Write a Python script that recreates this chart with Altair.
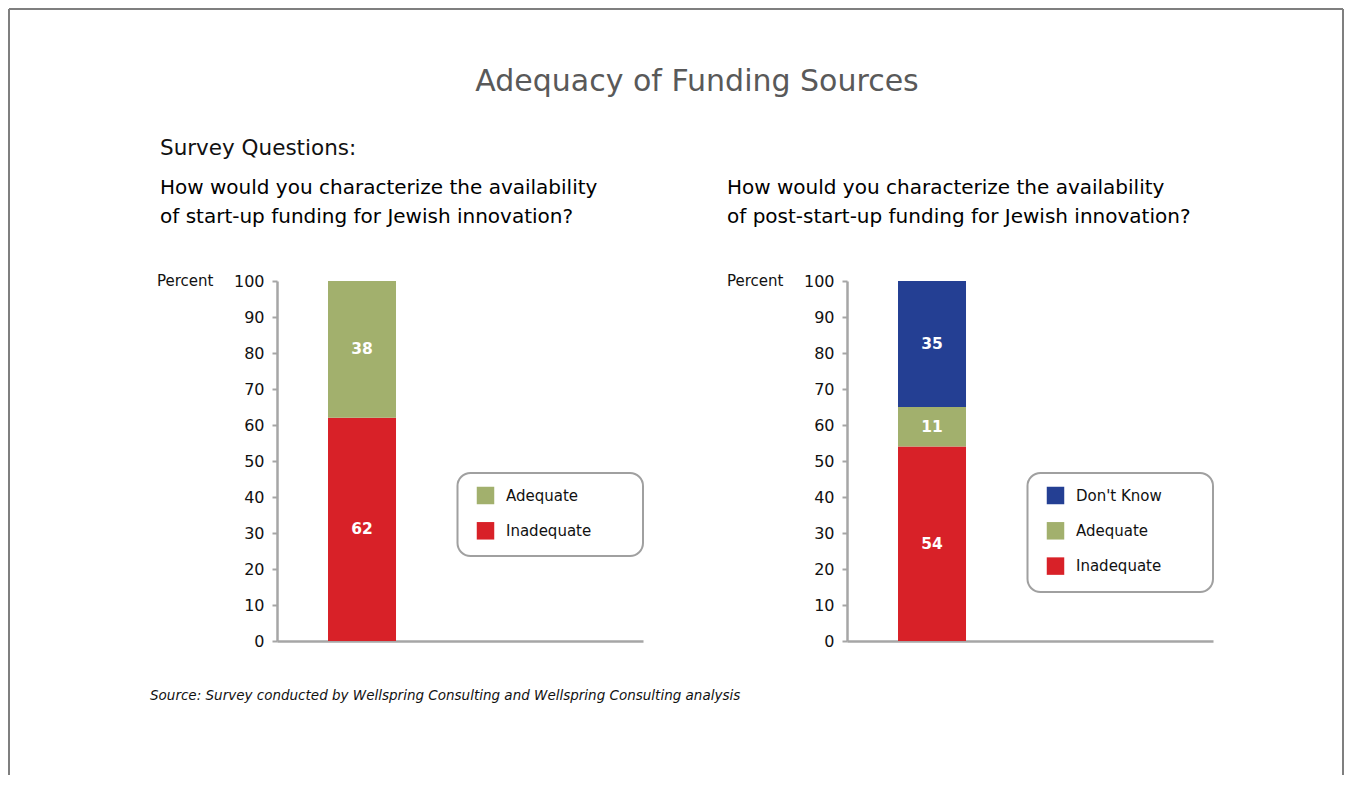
import altair as alt
import pandas as pd

# ---------------- data ----------------
title_text = "Adequacy of Funding Sources"
survey_label = "Survey Questions:"
question_left = ["How would you characterize the availability",
                 "of start-up funding for Jewish innovation?"]
question_right = ["How would you characterize the availability",
                  "of post-start-up funding for Jewish innovation?"]
axis_label = "Percent"
source_text = "Source: Survey conducted by Wellspring Consulting and Wellspring Consulting analysis"

cats_left = ["Inadequate", "Adequate"]
vals_left = [62, 38]
cats_right = ["Inadequate", "Adequate", "Don't Know"]
vals_right = [54, 11, 35]

legend_left = ["Adequate", "Inadequate"]
legend_right = ["Don't Know", "Adequate", "Inadequate"]

y_ticks = [0, 10, 20, 30, 40, 50, 60, 70, 80, 90, 100]

palette = {"Inadequate": "#D82128", "Adequate": "#A2B06D", "Don't Know": "#243F93"}

FONT = "DejaVu Sans"
W, H = 366, 360


def static(mark):
    return alt.Chart(pd.DataFrame({"k": [0]})).mark_text(**mark)


def panel(cats, vals, legend_items, question, is_left):
    df = pd.DataFrame({"q": ["Q"] * len(cats), "cat": cats, "value": vals,
                       "ord": list(range(len(cats)))})
    cscale = alt.Scale(domain=legend_items, range=[palette[c] for c in legend_items])
    base = alt.Chart(df).transform_stack(
        stack="value", groupby=["q"], as_=["v0", "v1"],
        sort=[alt.SortField("ord", order="ascending")]
    ).transform_calculate(mid="(datum.v0 + datum.v1) / 2")

    xscale = alt.Scale(paddingInner=0, paddingOuter=1, align=0.0984)
    yscale = alt.Scale(domain=[0, 100], nice=False)
    xaxis = alt.Axis(labels=False, ticks=False, title=None)
    yaxis = alt.Axis(values=y_ticks, tickCount=11, labelOverlap=False,
                     grid=False, title=None)

    bars = base.mark_bar(width=68).encode(
        x=alt.X("q:N", title=None, scale=xscale, axis=xaxis),
        y=alt.Y("v0:Q", scale=yscale, title=None, axis=yaxis),
        y2="v1:Q",
        color=alt.Color("cat:N", scale=cscale, legend=None),
    )
    labels = base.mark_text(color="white", font=FONT, fontWeight="bold",
                            fontSize=15.5, baseline="middle").encode(
        x=alt.X("q:N", title=None, scale=xscale, axis=xaxis),
        y=alt.Y("mid:Q", scale=yscale, title=None, axis=yaxis),
        text=alt.Text("value:Q"),
    )

    layers = []
    if is_left:
        frame_color = "#7F7F7F"
        fr = alt.Chart(pd.DataFrame({"k": [0]}))
        layers += [
            fr.mark_rule(color=frame_color, strokeWidth=2).encode(
                x=alt.value(-268), y=alt.value(-272), y2=alt.value(494)),
            fr.mark_rule(color=frame_color, strokeWidth=2).encode(
                x=alt.value(1066), y=alt.value(-272), y2=alt.value(494)),
            fr.mark_rule(color=frame_color, strokeWidth=2).encode(
                x=alt.value(-268), x2=alt.value(1066), y=alt.value(-272)),
            static(dict(text=title_text, font=FONT, fontSize=30, color="#595959",
                        align="center", baseline="middle")).encode(
                x=alt.value(420), y=alt.value(-199)),
            static(dict(text=survey_label, font=FONT, fontSize=21.5, color="#111111",
                        align="left", baseline="middle")).encode(
                x=alt.value(-117), y=alt.value(-132)),
            static(dict(text=source_text, font=FONT, fontSize=13.5, fontStyle="italic",
                        color="#111111", align="left", baseline="middle")).encode(
                x=alt.value(-127), y=alt.value(415)),
        ]
    qx = -117 if is_left else -120
    layers += [
        static(dict(text=question, font=FONT, fontSize=20, color="#000000",
                    align="left", baseline="middle", lineHeight=29)).encode(
            x=alt.value(qx), y=alt.value(-93)),
        static(dict(text=axis_label, font=FONT, fontSize=15, color="#111111",
                    align="left", baseline="middle")).encode(
            x=alt.value(-120), y=alt.value(0)),
    ]

    box_bottom = 192 + 83 if len(legend_items) == 2 else 192 + 119
    layers.append(
        alt.Chart(pd.DataFrame({"k": [0]})).mark_rect(
            cornerRadius=13, fill="white", stroke="#A0A0A0", strokeWidth=2
        ).encode(x=alt.value(180.5), x2=alt.value(366), y=alt.value(192),
                 y2=alt.value(box_bottom))
    )
    layers += [bars, labels]
    for i, item in enumerate(legend_items):
        ld = alt.Chart(pd.DataFrame({"cat": [item]}))
        yy = 214.5 + i * 35.3
        layers.append(ld.mark_square(size=306, opacity=1).encode(
            x=alt.value(208.5), y=alt.value(yy),
            color=alt.Color("cat:N", scale=cscale, legend=None)))
        layers.append(ld.mark_text(font=FONT, fontSize=15, color="#111111",
                                   align="left", baseline="middle").encode(
            x=alt.value(229), y=alt.value(yy), text=alt.Text("cat:N")))

    return alt.layer(*layers).properties(width=W, height=H)


left = panel(cats_left, vals_left, legend_left, question_left, True)
right = panel(cats_right, vals_right, legend_right, question_right, False)

chart = alt.hconcat(left, right, spacing=204, bounds="flush").resolve_scale(
    color="independent", x="independent", y="independent"
).properties(padding=0, background="white").configure_view(
    stroke=None
).configure_axis(
    domainColor="#A6A6A6", domainWidth=2.5, tickColor="#A6A6A6", tickWidth=2,
    tickSize=5, labelFont=FONT, labelFontSize=16, labelColor="#111111",
    labelPadding=8,
)

chart.save("out.html", embed_options={"renderer": "svg", "actions": False})
